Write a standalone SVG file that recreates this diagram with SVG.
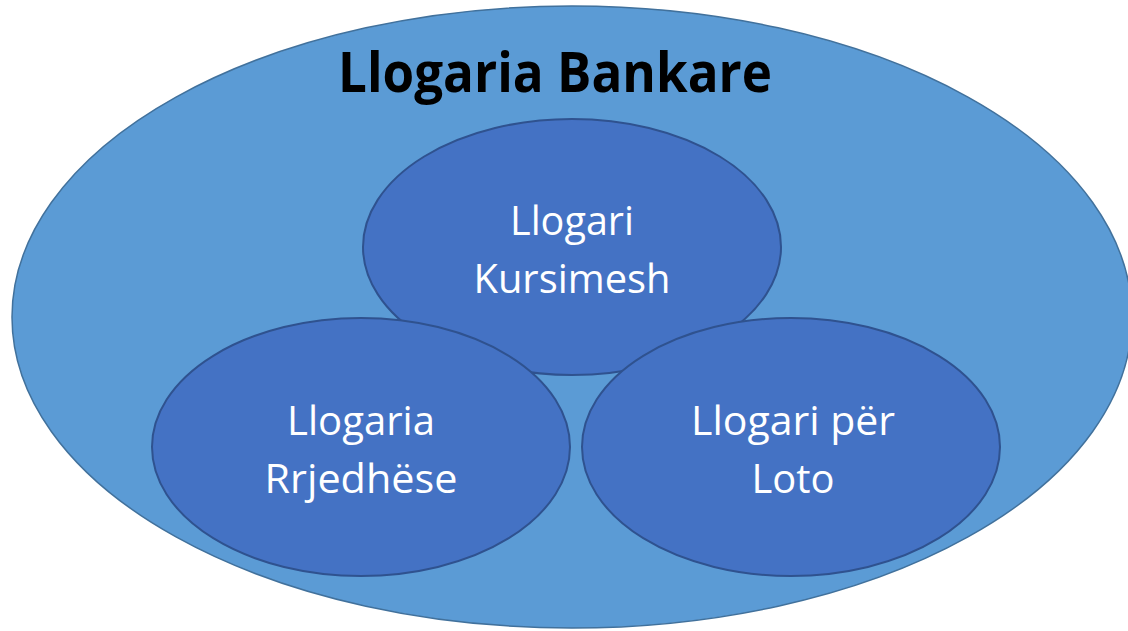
<svg xmlns="http://www.w3.org/2000/svg" width="1128" height="631" viewBox="0 0 1128 631">
  <style>
    .outer { fill: #5B9BD5; stroke: #41719C; stroke-width: 1.5; }
    .inner { fill: #4472C4; stroke: #2F528F; stroke-width: 2; }
    .title { font-family: "Open Sans", "Liberation Sans", sans-serif; font-weight: bold; font-size: 56px; fill: #000000; }
    .label { font-family: "Open Sans", "Liberation Sans", sans-serif; font-size: 41px; fill: #FFFFFF; text-anchor: middle; }
  </style>
  <rect width="1128" height="631" fill="#FFFFFF"/>

  <g id="bank-account">
    <ellipse class="outer" cx="572" cy="317" rx="560" ry="311"/>
    <text class="title" x="338" y="92" textLength="434" lengthAdjust="spacingAndGlyphs">Llogaria Bankare</text>
  </g>

  <g id="connectors"></g>

  <g id="savings-account">
    <ellipse class="inner" cx="572" cy="247" rx="209" ry="128"/>
    <text class="label" x="572" y="235" textLength="124" lengthAdjust="spacingAndGlyphs">Llogari</text>
    <text class="label" x="572" y="293" textLength="197" lengthAdjust="spacingAndGlyphs">Kursimesh</text>
  </g>

  <g id="current-account">
    <ellipse class="inner" cx="361" cy="447" rx="209" ry="129"/>
    <text class="label" x="361" y="435" textLength="148" lengthAdjust="spacingAndGlyphs">Llogaria</text>
    <text class="label" x="361" y="493" textLength="193" lengthAdjust="spacingAndGlyphs">Rrjedhëse</text>
  </g>

  <g id="lotto-account">
    <ellipse class="inner" cx="791" cy="447" rx="209" ry="129"/>
    <text class="label" x="793" y="435" textLength="204" lengthAdjust="spacingAndGlyphs">Llogari për</text>
    <text class="label" x="793" y="493" textLength="83" lengthAdjust="spacingAndGlyphs">Loto</text>
  </g>
</svg>
